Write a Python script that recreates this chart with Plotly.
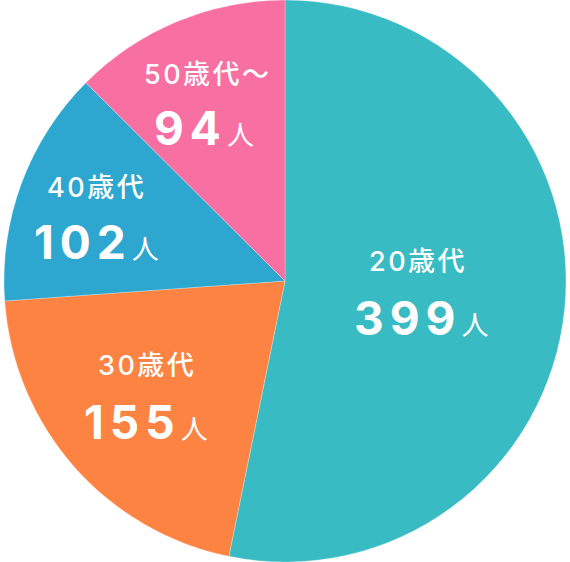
import plotly.graph_objects as go

# 年代別の人数
labels = ['20歳代', '30歳代', '40歳代', '50歳代～']
values = [399, 155, 102, 94]
colors = ['#38BBC3', '#FD8343', '#2DA7CF', '#F86FA2']

# ラベル位置 (paper座標)
label_x = [0.733, 0.258, 0.170, 0.365]
label_y = [0.534, 0.349, 0.666, 0.868]
count_x = [0.738, 0.256, 0.170, 0.358]
count_y = [0.434, 0.249, 0.570, 0.772]

fig = go.Figure()
fig.add_trace(go.Pie(labels=labels,
                     values=values,
                     marker=dict(colors=colors, line=dict(width=0.5, color='rgba(255,255,255,0.5)')),
                     sort=False,
                     direction='clockwise',
                     rotation=0,
                     textinfo='none',
                     hoverinfo='label+value',
                     showlegend=False))

font_family = 'Inter, Noto Sans CJK JP, sans-serif'
for i, lab in enumerate(labels):
    fig.add_annotation(x=label_x[i], y=label_y[i], xref='paper', yref='paper',
                       xanchor='center', yanchor='middle',
                       text=f'<span style="letter-spacing:2.5px">{lab}</span>',
                       showarrow=False,
                       font=dict(family=font_family, size=27, color='white', weight=500))
    fig.add_annotation(x=count_x[i], y=count_y[i], xref='paper', yref='paper',
                       xanchor='center', yanchor='middle',
                       text=(f'<span style="letter-spacing:6px"><b>{values[i]}</b></span>'
                             f'<span style="font-size:27px">人</span>'),
                       showarrow=False,
                       font=dict(family=font_family, size=46, color='white'))

fig.update_layout(width=570, height=562,
                  margin=dict(l=0, r=0, t=0, b=0),
                  paper_bgcolor='white',
                  plot_bgcolor='white')

fig.write_html('out.html', config={'displayModeBar': False},
               post_script="document.body.style.margin='0';")
